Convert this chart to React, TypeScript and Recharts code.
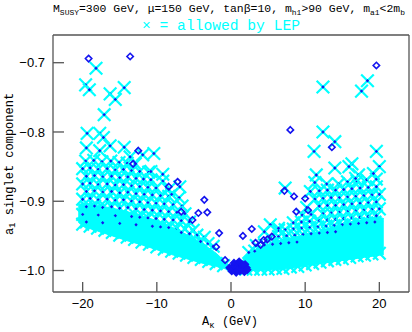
import React from "react";
import { ComposedChart, Area, Scatter, XAxis, YAxis } from "recharts";

const CYAN = "#00ffff";
const BLUE = "#1414f0";
const FRAME = "#555";

// axis ticks
const xMajor = [-20, -10, 0, 10, 20];
const xMinor = [-24, -22, -20, -18, -16, -14, -12, -10, -8, -6, -4, -2, 0, 2, 4, 6, 8, 10, 12, 14, 16, 18, 20, 22, 24];
const yMajor = [-1.0, -0.9, -0.8, -0.7];
const yMinor = [-1.02, -1.0, -0.98, -0.96, -0.94, -0.92, -0.9, -0.88, -0.86, -0.84, -0.82, -0.8, -0.78, -0.76, -0.74, -0.72, -0.7, -0.68, -0.66];

// the solid strip where the allowed crosses overlap completely
const bandX = [-20.6, -20, -18, -16, -14, -12, -10, -8, -6, -4, -2, -1, 0, 1, 2, 4, 6, 8, 10, 12, 14, 16, 18, 20, 20.6];
const bandLow = [-0.93, -0.936, -0.943, -0.95, -0.957, -0.963, -0.97, -0.977, -0.983, -0.989, -0.994, -0.997, -0.999, -1.0, -1.0, -1.0, -0.999, -0.997, -0.994, -0.99, -0.987, -0.984, -0.981, -0.978, -0.977];
const bandHigh = [-0.905, -0.903, -0.906, -0.91, -0.915, -0.921, -0.928, -0.937, -0.948, -0.96, -0.975, -0.985, -0.995, -0.996, -0.978, -0.966, -0.958, -0.953, -0.948, -0.943, -0.936, -0.93, -0.926, -0.923, -0.925];

// allowed points, isolated
const allowedSparse = [
  [-18.2, -0.708], [-19.6, -0.732], [-19.1, -0.739], [-16.3, -0.745], [-15.6, -0.753], [-14.4, -0.736],
  [-17.1, -0.775], [-19.4, -0.802], [-17.7, -0.802], [-17.2, -0.808], [-19.5, -0.823], [-17.7, -0.827],
  [-16.3, -0.82], [-14.4, -0.822], [-13.6, -0.836], [-11.9, -0.833], [-10.4, -0.831], [-10.8, -0.857],
  [-9.2, -0.861], [-6.9, -0.879], [-8.0, -0.89],
  [18.4, -0.726], [17.6, -0.741], [12.4, -0.735], [12.4, -0.8], [14.0, -0.814], [11.2, -0.828],
  [19.6, -0.828], [14.0, -0.852], [16.3, -0.846], [15.9, -0.85], [20.0, -0.85], [19.2, -0.86],
  [17.2, -0.862], [16.8, -0.867], [11.5, -0.862], [7.3, -0.881], [5.3, -0.934], [6.4, -0.939], [4.5, -0.944],
];

// allowed points, left lattice
const allowedLeft = [
  [-19.6, -0.842], [-18.5, -0.841], [-17.4, -0.843], [-16.2, -0.842], [-15.1, -0.844], [-14.0, -0.845], [-12.9, -0.846],
  [-20.0, -0.853], [-19.0, -0.852], [-17.9, -0.854], [-16.7, -0.853], [-15.6, -0.855], [-14.5, -0.854], [-13.4, -0.856], [-12.3, -0.857], [-11.1, -0.858],
  [-19.5, -0.864], [-18.4, -0.863], [-17.3, -0.865], [-16.1, -0.864], [-15.0, -0.866], [-13.9, -0.865], [-12.8, -0.867], [-11.8, -0.868], [-10.8, -0.869], [-9.2, -0.871],
  [-20.0, -0.875], [-19.0, -0.874], [-17.9, -0.876], [-16.7, -0.875], [-15.6, -0.877], [-14.5, -0.876], [-13.4, -0.878], [-12.3, -0.879], [-11.2, -0.88], [-10.1, -0.881], [-8.4, -0.883],
  [-19.5, -0.886], [-18.4, -0.885], [-17.3, -0.887], [-16.1, -0.886], [-15.0, -0.888], [-13.9, -0.887], [-12.8, -0.889], [-11.7, -0.89], [-10.6, -0.891], [-9.5, -0.892], [-8.4, -0.893], [-7.0, -0.895],
  [-20.0, -0.897], [-19.0, -0.896], [-17.9, -0.898], [-16.7, -0.897], [-15.6, -0.899], [-14.5, -0.898], [-13.4, -0.9], [-12.3, -0.901], [-11.2, -0.902], [-10.1, -0.903], [-9.0, -0.904], [-7.8, -0.905], [-6.6, -0.907],
  [-19.5, -0.908], [-18.4, -0.907], [-17.3, -0.909], [-16.1, -0.908], [-15.0, -0.91], [-13.9, -0.909], [-12.8, -0.911], [-11.7, -0.912], [-10.6, -0.913], [-9.5, -0.914], [-8.4, -0.915], [-7.3, -0.916], [-6.2, -0.918],
  [-20.0, -0.919], [-17.9, -0.92], [-15.6, -0.921], [-13.4, -0.922], [-12.3, -0.923], [-11.2, -0.924], [-10.1, -0.925], [-9.0, -0.926], [-7.8, -0.927], [-6.7, -0.928], [-5.6, -0.93],
  [-19.5, -0.93], [-17.3, -0.931], [-15.0, -0.932], [-12.8, -0.934], [-10.6, -0.936], [-9.5, -0.937], [-8.4, -0.938], [-7.3, -0.939], [-6.2, -0.94], [-5.1, -0.942],
  [-6.7, -0.945], [-5.6, -0.947], [-4.6, -0.949], [-3.6, -0.952], [-4.1, -0.958], [-3.1, -0.961], [-2.4, -0.965],
];

// allowed points, right lattice
const allowedRight = [
  [11.3, -0.873], [12.9, -0.875], [14.5, -0.875], [15.7, -0.872], [17.0, -0.871], [18.3, -0.869], [19.6, -0.868],
  [10.7, -0.886], [11.9, -0.885], [13.0, -0.884], [14.1, -0.884], [15.2, -0.883], [16.3, -0.882], [17.4, -0.881], [18.5, -0.88], [19.6, -0.879],
  [11.3, -0.897], [12.4, -0.896], [13.5, -0.895], [14.6, -0.895], [15.7, -0.894], [16.8, -0.893], [17.9, -0.892], [19.0, -0.891], [20.0, -0.89],
  [10.2, -0.909], [11.9, -0.907], [13.0, -0.906], [14.1, -0.906], [15.2, -0.905], [16.3, -0.904], [17.4, -0.903], [18.5, -0.902], [19.6, -0.901],
  [9.6, -0.92], [10.8, -0.919], [12.4, -0.918], [13.5, -0.917], [14.6, -0.916], [15.7, -0.915], [16.8, -0.914], [17.9, -0.913], [19.0, -0.912], [20.0, -0.911],
  [8.4, -0.931], [9.5, -0.93], [10.6, -0.929], [11.9, -0.928], [13.0, -0.927], [14.1, -0.926], [15.2, -0.925], [16.3, -0.924], [17.4, -0.923], [18.5, -0.922], [19.6, -0.921],
  [6.4, -0.942], [7.3, -0.941], [8.4, -0.94], [9.5, -0.939], [10.6, -0.938], [11.7, -0.937], [12.8, -0.936], [13.9, -0.935], [15.0, -0.934], [16.1, -0.933], [17.2, -0.932], [18.3, -0.931], [19.4, -0.93],
  [5.3, -0.952], [6.4, -0.951], [7.5, -0.95], [8.6, -0.949], [9.7, -0.948], [10.8, -0.947], [11.9, -0.946], [13.0, -0.945], [14.1, -0.944],
  [3.4, -0.964], [4.5, -0.963], [5.6, -0.962], [6.7, -0.961], [7.8, -0.96], [8.9, -0.959], [2.4, -0.974], [3.2, -0.972],
];

// allowed points along the lower edge of the strip
const allowedEdge = [
  [-20, -0.933], [-19, -0.936], [-18, -0.939], [-17, -0.942], [-16, -0.945], [-15, -0.949], [-14, -0.952],
  [-13, -0.955], [-12, -0.959], [-11, -0.962], [-10, -0.966], [-9, -0.969], [-8, -0.972], [-7, -0.975],
  [-6, -0.978], [-5, -0.981], [-4, -0.984], [-3, -0.987], [-2, -0.99], [-1, -0.993],
  [2, -0.998], [3, -0.998], [4, -0.998], [5, -0.998], [6, -0.997], [7, -0.997], [8, -0.995], [9, -0.994],
  [10, -0.992], [11, -0.99], [12, -0.988], [13, -0.986], [14, -0.984], [15, -0.983], [16, -0.981],
  [17, -0.979], [18, -0.978], [19, -0.976], [20, -0.975],
];

// points excluded by LEP
const excluded = [
  [-19.2, -0.694], [-13.6, -0.691], [19.6, -0.704], [8.0, -0.797], [13.6, -0.822], [-12.5, -0.827],
  [-13.2, -0.846], [-7.2, -0.872], [-8.4, -0.879], [-3.6, -0.898], [-4.4, -0.917], [-3.2, -0.916],
  [-6.7, -0.915], [-5.2, -0.927], [-1.6, -0.946], [-2.0, -0.966], [-0.8, -0.985], [1.6, -0.95],
  [2.8, -0.94], [3.3, -0.96], [4.0, -0.963], [4.4, -0.956], [4.9, -0.955], [5.5, -0.951], [7.2, -0.885],
  [8.5, -0.893], [10.0, -0.896], [8.8, -0.915], [10.4, -0.913],
];

// the cluster of excluded points near A_kappa = 0
const excludedCluster = [
  [-0.2, -0.996], [0.1, -1.001], [0.3, -0.994], [0.5, -0.999], [0.7, -1.003], [0.8, -0.992], [1.0, -0.997],
  [1.2, -1.001], [1.3, -0.99], [1.5, -0.995], [1.7, -0.999], [1.9, -0.991], [2.1, -0.996], [0.4, -0.989],
  [1.1, -0.987], [1.8, -1.002], [0.0, -0.998], [0.6, -0.995], [0.9, -1.0], [1.4, -0.998], [1.6, -0.992], [2.2, -0.999],
];

const toPts = (arr: number[][]) => arr.map(([x, y]) => ({ x, y }));
const bandRows = bandX.map((x, i) => ({ x, band: [bandLow[i], bandHigh[i]] }));

const crossD = (cx: number, cy: number, s: number) =>
  `M${cx - s},${cy - s}L${cx + s},${cy + s}M${cx - s},${cy + s}L${cx + s},${cy - s}`;
const diamondD = (cx: number, cy: number, r: number) =>
  `M${cx},${cy - r}L${cx + r},${cy}L${cx},${cy + r}L${cx - r},${cy}Z`;

const CrossDot = (p: any) => (
  <g>
    <path d={crossD(p.cx, p.cy, 6.3)} stroke={CYAN} strokeWidth={2.2} fill="none" />
    <path d={diamondD(p.cx, p.cy, 1.7)} fill={BLUE} />
  </g>
);
const Cross = (p: any) => <path d={crossD(p.cx, p.cy, 6.3)} stroke={CYAN} strokeWidth={2.2} fill="none" />;
const Diamond = (p: any) => <path d={diamondD(p.cx, p.cy, 3.2)} stroke={BLUE} strokeWidth={1.6} fill="none" />;
const DiamondSolid = (p: any) => <path d={diamondD(p.cx, p.cy, 3.4)} stroke={BLUE} strokeWidth={1.4} fill={BLUE} />;

const minus = (s: string) => s.replace("-", "\u2212");
const tickFont = { fill: "#000", fontSize: 13, fontFamily: "Liberation Sans, Arial, sans-serif" };
const mono = "Liberation Mono, DejaVu Sans Mono, monospace";
const X_DOMAIN: [number, number] = [-24, 24];
const Y_DOMAIN: [number, number] = [-1.031, -0.66];
const line = { stroke: FRAME, strokeWidth: 1.3 };

export default function App() {
  return (
    <div style={{ position: "absolute", left: 0, top: 0, width: 412, height: 332, background: "#fff" }}>
      <ComposedChart width={412} height={332} data={bandRows} margin={{ top: 33, right: 1, bottom: 38, left: 51 }}>
        <XAxis xAxisId="x" dataKey="x" type="number" domain={X_DOMAIN} allowDataOverflow ticks={xMajor} interval={0}
          height={1} tickSize={-10} tickMargin={17} tick={tickFont} tickFormatter={(v: number) => minus(String(v))}
          axisLine={line} tickLine={line} />
        <XAxis xAxisId="xb" dataKey="x" type="number" domain={X_DOMAIN} allowDataOverflow ticks={xMinor} interval={0}
          height={1} tickSize={-5} tick={false} axisLine={false} tickLine={line} />
        <XAxis xAxisId="xt" orientation="top" dataKey="x" type="number" domain={X_DOMAIN} allowDataOverflow ticks={xMajor} interval={0}
          height={1} tickSize={-10} tick={false} axisLine={line} tickLine={line} />
        <XAxis xAxisId="xt2" orientation="top" dataKey="x" type="number" domain={X_DOMAIN} allowDataOverflow ticks={xMinor} interval={0}
          height={1} tickSize={-5} tick={false} axisLine={false} tickLine={line} />
        <YAxis yAxisId="y" dataKey="y" type="number" domain={Y_DOMAIN} allowDataOverflow ticks={yMajor} interval={0}
          width={1} tickSize={-11} tickMargin={19} tick={tickFont} tickFormatter={(v: number) => minus(v.toFixed(1))}
          axisLine={line} tickLine={line} />
        <YAxis yAxisId="yl" dataKey="y" type="number" domain={Y_DOMAIN} allowDataOverflow ticks={yMinor} interval={0}
          width={1} tickSize={-5} tick={false} axisLine={false} tickLine={line} />
        <YAxis yAxisId="yr" orientation="right" dataKey="y" type="number" domain={Y_DOMAIN} allowDataOverflow ticks={yMajor} interval={0}
          width={1} tickSize={-11} tick={false} axisLine={line} tickLine={line} />
        <YAxis yAxisId="yr2" orientation="right" dataKey="y" type="number" domain={Y_DOMAIN} allowDataOverflow ticks={yMinor} interval={0}
          width={1} tickSize={-5} tick={false} axisLine={false} tickLine={line} />

        <Area xAxisId="x" yAxisId="y" dataKey="band" type="linear" stroke={CYAN} strokeWidth={1} fill={CYAN} fillOpacity={1} isAnimationActive={false} />
        <Scatter xAxisId="x" yAxisId="y" data={toPts(allowedEdge)} shape={Cross} isAnimationActive={false} />
        <Scatter xAxisId="x" yAxisId="y" data={toPts(allowedLeft)} shape={CrossDot} isAnimationActive={false} />
        <Scatter xAxisId="x" yAxisId="y" data={toPts(allowedRight)} shape={CrossDot} isAnimationActive={false} />
        <Scatter xAxisId="x" yAxisId="y" data={toPts(allowedSparse)} shape={CrossDot} isAnimationActive={false} />
        <Scatter xAxisId="x" yAxisId="y" data={toPts(excluded)} shape={Diamond} isAnimationActive={false} />
        <Scatter xAxisId="x" yAxisId="y" data={toPts(excludedCluster)} shape={DiamondSolid} isAnimationActive={false} />
      </ComposedChart>

      <svg width={412} height={332} style={{ position: "absolute", left: 0, top: 0, pointerEvents: "none" }}>
        <text x={53} y={12} fontFamily={mono} fontSize={11.5} fill="#000" textLength={352} lengthAdjust="spacingAndGlyphs">
          M<tspan fontSize={8} dy={2.5}>SUSY</tspan>
          <tspan dy={-2.5}>=300 GeV, {"\u03bc"}=150 GeV, tan{"\u03b2"}=10, m</tspan>
          <tspan fontSize={8} dy={2.5}>h1</tspan>
          <tspan dy={-2.5}>&gt;90 GeV, m</tspan>
          <tspan fontSize={8} dy={2.5}>a1</tspan>
          <tspan dy={-2.5}>&lt;2m</tspan>
          <tspan fontSize={8} dy={2.5}>b</tspan>
        </text>
        <text x={142} y={30} fontFamily={mono} fontSize={14.5} fill={CYAN} textLength={158} lengthAdjust="spacingAndGlyphs">
          {"\u00d7 = allowed by LEP"}
        </text>
        <text x={230} y={325} fontFamily={mono} fontSize={12} fill="#000" textAnchor="middle">
          A<tspan fontSize={9} dy={2.5}>{"\u03ba"}</tspan>
          <tspan dy={-2.5}> (GeV)</tspan>
        </text>
        <text transform="translate(12.5,164) rotate(-90)" fontFamily={mono} fontSize={12} fill="#000" textAnchor="middle">
          a<tspan fontSize={9} dy={2.5}>1</tspan>
          <tspan dy={-2.5}> singlet component</tspan>
        </text>
      </svg>
    </div>
  );
}
